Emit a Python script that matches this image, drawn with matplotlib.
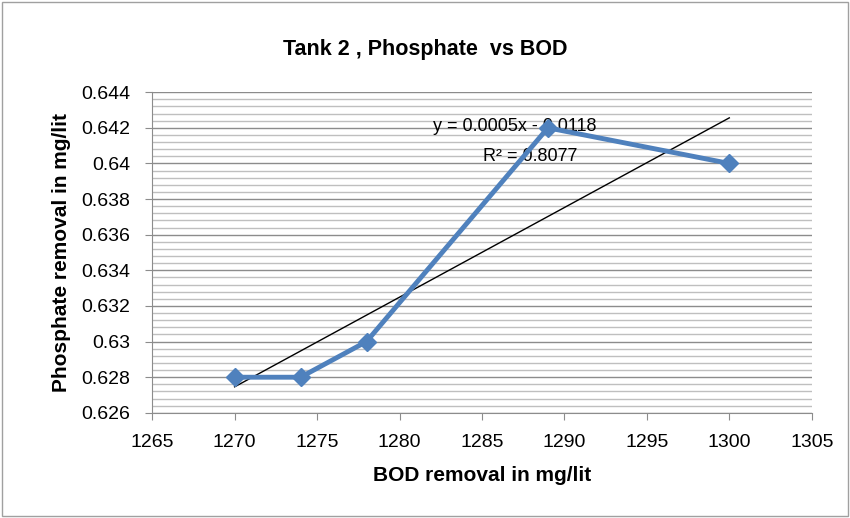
import numpy as np
import matplotlib.pyplot as plt
from matplotlib.patches import Rectangle
from matplotlib.ticker import MultipleLocator

bod = [1270, 1274, 1278, 1289, 1300]
phosphate = [0.628, 0.628, 0.630, 0.642, 0.640]
x_ticks = [1265, 1270, 1275, 1280, 1285, 1290, 1295, 1300, 1305]
y_ticks = [0.626, 0.628, 0.63, 0.632, 0.634, 0.636, 0.638, 0.64, 0.642, 0.644]
y_labels = ['0.626', '0.628', '0.63', '0.632', '0.634', '0.636', '0.638', '0.64', '0.642', '0.644']


def main():
    plt.rcParams['font.family'] = ['Liberation Sans', 'DejaVu Sans']
    fig = plt.figure(figsize=(8.5, 5.18), dpi=100)
    ax = fig.add_axes([0.179, 0.203, 0.776, 0.619])

    # рамка вокруг всей диаграммы
    fig.patches.append(Rectangle((0.002, 0.003), 0.996, 0.994, transform=fig.transFigure,
                                 fill=False, edgecolor='#a0a0a0', linewidth=1))

    # линия тренда
    k, b = np.polyfit(bod, phosphate, 1)
    xt = np.array([bod[0], bod[-1]])
    ax.plot(xt, k * xt + b, color='black', linewidth=1, zorder=3)

    ax.plot(bod, phosphate, color='#4F81BD', linewidth=3.5, marker='D',
            markersize=9, zorder=4)

    ax.set_xlim(1265, 1305)
    ax.set_ylim(0.626, 0.644)
    ax.set_xticks(x_ticks)
    ax.set_yticks(y_ticks)
    ax.set_yticklabels(y_labels)
    ax.yaxis.set_minor_locator(MultipleLocator(0.0004))
    ax.grid(axis='y', which='major', color='#8c8c8c', linewidth=1)
    ax.grid(axis='y', which='minor', color='#bfbfbf', linewidth=1)
    ax.set_axisbelow(True)
    ax.tick_params(axis='both', which='major', labelsize=14, direction='out',
                   length=5, color='#8c8c8c')
    ax.tick_params(axis='y', which='major', pad=11)
    ax.tick_params(axis='x', which='major', pad=10)
    ax.tick_params(axis='y', which='minor', length=0)
    for s in ['top', 'right']:
        ax.spines[s].set_visible(False)
    for s in ['left', 'bottom']:
        ax.spines[s].set_color('#8c8c8c')

    ax.text(1287.0, 0.6421, 'y = 0.0005x - 0.0118', fontsize=13, ha='center', va='center')
    ax.text(1287.9, 0.6404, 'R² = 0.8077', fontsize=13, ha='center', va='center')

    fig.text(0.5, 0.905, 'Tank 2 , Phosphate  vs BOD', fontsize=15.5, fontweight='bold',
             ha='center', va='center')
    ax.set_xlabel('BOD removal in mg/lit', fontsize=15, fontweight='bold', labelpad=11)
    ax.set_ylabel('Phosphate removal in mg/lit', fontsize=15, fontweight='bold', labelpad=7)

    fig.savefig('out.png', dpi=100)


if __name__ == "__main__":
    main()
